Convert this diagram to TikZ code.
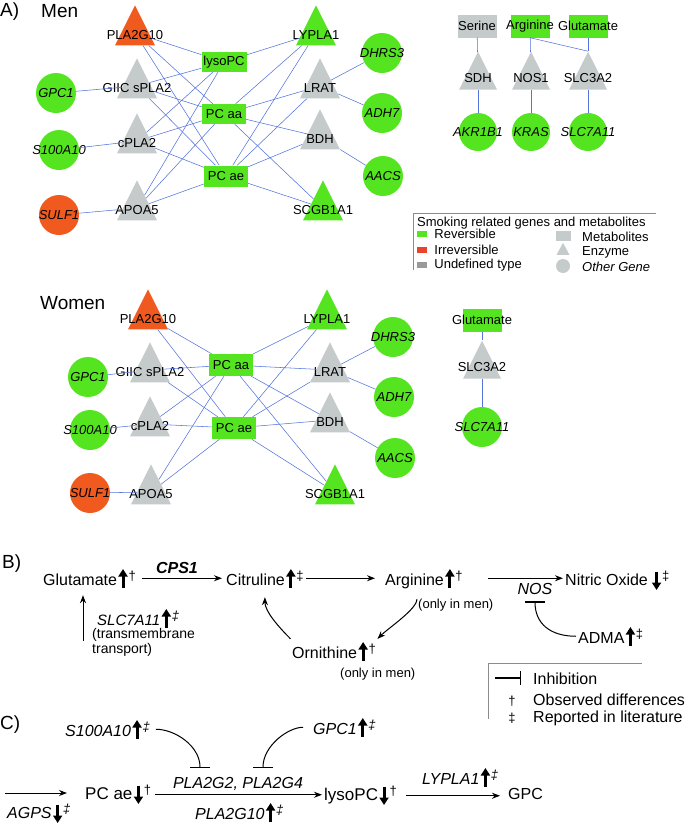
\documentclass[tikz,border=0pt]{standalone}
\usepackage{fontspec}
\setmainfont{Liberation Sans}
\usetikzlibrary{arrows.meta, positioning, shapes.geometric, calc}
\definecolor{nodegreen}{HTML}{55E520}
\definecolor{nodeorange}{HTML}{F05A1E}
\definecolor{nodegray}{HTML}{C5CACB}
\definecolor{legred}{HTML}{E8432B}
\definecolor{leggray}{HTML}{9A9A9A}
\definecolor{edgeblue}{HTML}{5574DC}
\definecolor{framegray}{HTML}{8C8C8C}

% thick change arrows and marks used in B) and C)
\newcommand\incr{\kern1.5pt\tikz[baseline=0pt]\draw[line width=3pt,-{Triangle[width=9pt,length=7.5pt]}] (0pt,-2.5pt) -- (0pt,16pt);}
\newcommand\decr{\kern1.5pt\tikz[baseline=0pt]\draw[line width=3pt,-{Triangle[width=9pt,length=7.5pt]}] (0pt,13.5pt) -- (0pt,-5pt);}
\newcommand\obsd{\raisebox{5pt}{\fontsize{13}{13}\selectfont\kern1pt †}}
\newcommand\litd{\raisebox{5pt}{\fontsize{13}{13}\selectfont\kern1pt ‡}}

\begin{document}
\begin{tikzpicture}[
  x=1pt, y=-1pt,
  enzyme/.style={isosceles triangle, isosceles triangle stretches=true,
                 shape border rotate=90, minimum width=40pt, minimum height=40pt,
                 inner sep=0pt, fill=nodegray},
  gene/.style={circle, minimum size=40pt, inner sep=0pt, fill=nodegreen},
  metab/.style={rectangle, minimum width=44pt, minimum height=20pt,
                inner sep=0pt, fill=nodegreen},
  lbl/.style={font=\fontsize{13}{15}\selectfont, inner sep=0pt},
  elbl/.style={lbl, yshift=-2pt},
  glbl/.style={lbl, font=\fontsize{13}{15}\selectfont\itshape},
  link/.style={draw=edgeblue, line width=0.55pt},
  panel/.style={font=\fontsize{19}{22}\selectfont, anchor=west, inner sep=0pt},
  txt/.style={font=\fontsize{16}{19}\selectfont, anchor=base west, inner sep=0pt},
  itxt/.style={txt, font=\fontsize{16}{19}\selectfont\itshape},
  note/.style={font=\fontsize{13}{15}\selectfont, anchor=base west, inner sep=0pt},
  flow/.style={-{Stealth[length=8pt,width=6pt]}, line width=1pt},
  inhib/.style={-{Bar[width=20pt,line width=1.4pt]}, line width=1pt}
]
\useasboundingbox (0,0) rectangle (685,825);

% A) men
\node[panel] (labA) at (0,12) {A)};
\node[panel] (men) at (41,11) {Men};

\node[enzyme, fill=nodeorange, label={[elbl]center:PLA2G10}] (mPla10) at (135,33) {};
\node[enzyme, label={[elbl]center:GIIC sPLA2}] (mGiic) at (137,86) {};
\node[enzyme, label={[elbl]center:cPLA2}] (mCpla) at (137,141) {};
\node[enzyme, label={[elbl]center:APOA5}] (mApoa) at (137,208) {};
\node[gene, label={[glbl]center:GPC1}] (mGpc1) at (56,93) {};
\node[gene, label={[glbl]center:S100A10}] (mS100) at (59,150) {};
\node[gene, fill=nodeorange, label={[glbl]center:SULF1}] (mSulf) at (59,215) {};
\node[metab, minimum width=45pt, label={[lbl]center:lysoPC}] (mLyso) at (224,62) {};
\node[metab, label={[lbl]center:PC aa}] (mPCaa) at (224,114) {};
\node[metab, minimum height=21pt, label={[lbl]center:PC ae}] (mPCae) at (226,176) {};
\node[enzyme, fill=nodegreen, label={[elbl]center:LYPLA1}] (mLypla) at (316,33) {};
\node[enzyme, label={[elbl]center:LRAT}] (mLrat) at (320,86) {};
\node[enzyme, label={[elbl]center:BDH}] (mBdh) at (320,137) {};
\node[enzyme, fill=nodegreen, label={[elbl]center:SCGB1A1}] (mScgb) at (323,208) {};
\node[gene, label={[glbl]center:DHRS3}] (mDhrs) at (382,53) {};
\node[gene, label={[glbl]center:ADH7}] (mAdh) at (382,113) {};
\node[gene, label={[glbl]center:AACS}] (mAacs) at (383,176) {};

\node[metab, fill=nodegray, minimum width=39pt, minimum height=23pt, label={[lbl]center:Serine}] (mSer) at (477,26) {};
\node[metab, minimum width=39pt, minimum height=23pt, label={[lbl]center:Arginine}] (mArg) at (530,26) {};
\node[metab, minimum width=39pt, minimum height=23pt, label={[lbl]center:Glutamate}] (mGlu) at (588,26) {};
\node[enzyme, minimum width=38pt, minimum height=38pt, label={[lbl]center:SDH}] (mSdh) at (478,78) {};
\node[enzyme, minimum width=38pt, minimum height=38pt, label={[lbl]center:NOS1}] (mNos) at (531,78) {};
\node[enzyme, minimum width=38pt, minimum height=38pt, label={[lbl]center:SLC3A2}] (mSlc3) at (588,78) {};
\node[gene, minimum size=38pt, label={[glbl]center:AKR1B1}] (mAkr) at (478,132) {};
\node[gene, minimum size=38pt, label={[glbl]center:KRAS}] (mKras) at (531,132) {};
\node[gene, minimum size=38pt, label={[glbl]center:SLC7A11}] (mSlc7) at (588,132) {};

\foreach \s in {mPla10,mGiic,mCpla,mApoa}
  \foreach \t in {mLyso,mPCaa,mPCae}
    \draw[link] (\s) -- (\t);
\foreach \s in {mPCaa,mPCae}
  \foreach \t in {mLypla,mLrat,mBdh,mScgb}
    \draw[link] (\s) -- (\t);
\draw[link] (mLyso) -- (mLypla);
\draw[link] (mGpc1) -- (mGiic);
\draw[link] (mS100) -- (mCpla);
\draw[link] (mSulf) -- (mApoa);
\draw[link] (mLrat) -- (mDhrs);
\draw[link] (mLrat) -- (mAdh);
\draw[link] (mBdh) -- (mAacs);
\draw[link] (mSer) -- (mSdh);
\draw[link] (mArg) -- (mNos);
\draw[link] (mArg.south) -- (mSlc3.apex);
\draw[link] (mGlu) -- (mSlc3);
\draw[link] (mSdh) -- (mAkr);
\draw[link] (mNos) -- (mKras);
\draw[link] (mSlc3) -- (mSlc7);

% legend of the networks
\draw[framegray, line width=0.8pt] (656,213) -- (413,213) -- (413,270);
\node[lbl, anchor=west] (legTitle) at (417,223) {Smoking related genes and metabolites};
\node[metab, minimum width=10pt, minimum height=6pt] (legRev) at (422,234) {};
\node[metab, fill=legred, minimum width=10pt, minimum height=6pt] (legIrr) at (422,250) {};
\node[metab, fill=leggray, minimum width=10pt, minimum height=6pt] (legUnd) at (422,265) {};
\node[lbl, right=7pt of legRev] (legRevT) {Reversible};
\node[lbl, right=7pt of legIrr] (legIrrT) {Irreversible};
\node[lbl, right=7pt of legUnd] (legUndT) {Undefined type};
\node[metab, fill=nodegray, minimum width=15pt, minimum height=10pt] (legMet) at (563,236) {};
\node[enzyme, minimum width=13pt, minimum height=12pt] (legEnz) at (563,251) {};
\node[gene, fill=nodegray, minimum size=14pt] (legGene) at (563,266) {};
\node[lbl, anchor=west] (legMetT) at (582,237) {Metabolites};
\node[lbl, anchor=west] (legEnzT) at (582,252) {Enzyme};
\node[glbl, anchor=west] (legGeneT) at (582,267) {Other Gene};

% A) women
\node[panel] (women) at (40,303) {Women};

\node[enzyme, fill=nodeorange, label={[elbl]center:PLA2G10}] (wPla10) at (148,317) {};
\node[enzyme, label={[elbl]center:GIIC sPLA2}] (wGiic) at (150,370) {};
\node[enzyme, label={[elbl]center:cPLA2}] (wCpla) at (150,424) {};
\node[enzyme, label={[elbl]center:APOA5}] (wApoa) at (151,492) {};
\node[gene, label={[glbl]center:GPC1}] (wGpc1) at (88,377) {};
\node[gene, label={[glbl]center:S100A10}] (wS100) at (90,430) {};
\node[gene, fill=nodeorange, label={[glbl]center:SULF1}] (wSulf) at (90,493) {};
\node[metab, minimum height=22pt, label={[lbl]center:PC aa}] (wPCaa) at (231,365) {};
\node[metab, minimum height=22pt, label={[lbl]center:PC ae}] (wPCae) at (234,428) {};
\node[enzyme, fill=nodegreen, label={[elbl]center:LYPLA1}] (wLypla) at (327,317) {};
\node[enzyme, label={[elbl]center:LRAT}] (wLrat) at (330,370) {};
\node[enzyme, label={[elbl]center:BDH}] (wBdh) at (330,420) {};
\node[enzyme, fill=nodegreen, label={[elbl]center:SCGB1A1}] (wScgb) at (335,492) {};
\node[gene, label={[glbl]center:DHRS3}] (wDhrs) at (393,337) {};
\node[gene, label={[glbl]center:ADH7}] (wAdh) at (394,397) {};
\node[gene, label={[glbl]center:AACS}] (wAacs) at (395,458) {};

\node[metab, minimum width=39pt, minimum height=23pt, label={[lbl]center:Glutamate}] (wGlu) at (482,320) {};
\node[enzyme, minimum width=38pt, minimum height=38pt, label={[lbl]center:SLC3A2}] (wSlc3) at (482,367) {};
\node[gene, label={[glbl]center:SLC7A11}] (wSlc7) at (482,427) {};

\foreach \s in {wPla10,wGiic,wCpla,wApoa}
  \foreach \t in {wPCaa,wPCae}
    \draw[link] (\s) -- (\t);
\foreach \s in {wPCaa,wPCae}
  \foreach \t in {wLypla,wLrat,wBdh,wScgb}
    \draw[link] (\s) -- (\t);
\draw[link] (wGpc1) -- (wGiic);
\draw[link] (wS100) -- (wCpla);
\draw[link] (wSulf) -- (wApoa);
\draw[link] (wLrat) -- (wDhrs);
\draw[link] (wLrat) -- (wAdh);
\draw[link] (wBdh) -- (wAacs);
\draw[link] (wGlu) -- (wSlc3);
\draw[link] (wSlc3) -- (wSlc7);

% B) urea cycle / nitric oxide
\node[panel] (labB) at (2,564) {B)};
\node[txt] (bGlu) at (43,585) {Glutamate\incr\obsd};
\node[txt] (bCit) at (226,585) {Citruline\incr\litd};
\node[txt] (bArg) at (385,585) {Arginine\incr\obsd};
\node[txt] (bNO) at (565,585) {Nitric Oxide\,\decr\litd};
\node[txt, anchor=base, font=\fontsize{16}{19}\selectfont\bfseries\itshape] (bCps) at (177,573) {CPS1};
\node[note] (bArgNote) at (418,608) {(only in men)};
\node[itxt, anchor=base] (bNos) at (535,594) {NOS};
\node[txt] (bAdma) at (578,643) {ADMA\incr\litd};
\node[txt] (bOrn) at (292,658) {Ornithine\incr\obsd};
\node[note] (bOrnNote) at (340,677) {(only in men)};
\node[itxt, font=\fontsize{15}{18}\selectfont\itshape] (bSlc) at (97,625) {SLC7A11\incr\litd};
\node[note, font=\fontsize{14}{15}\selectfont, align=left, anchor=north west] (bSlcNote) at (92,628) {(transmembrane\\transport)};

\draw[flow, shorten <=6pt, shorten >=4pt] (bGlu.east) -- (bCit.west);
\draw[flow, shorten <=2pt, shorten >=10pt] (bCit.east) -- (bArg.west);
\draw[flow, shorten <=25pt, shorten >=2pt] (bArg.east) -- (bArg.east -| bNO.west);
\draw[flow, shorten <=10pt, shorten >=2pt] ([xshift=-7pt]bArg.south) .. controls +(0,20) and +(12,-12) .. (bOrn.north east);
\draw[flow, shorten <=2pt, shorten >=8pt] (bOrn.north west) .. controls +(-14,-14) and +(0,22) .. (bCit.south);
\coordinate (bSlcIn) at (83,641);
\draw[flow, shorten >=6pt] (bSlcIn) -- (bSlcIn |- bGlu.south);
\coordinate (bNosBar) at ([yshift=-7pt]bNos.south);
\draw[inhib, shorten <=2pt] (bAdma.west) .. controls +(-28,0) and +(0,22) .. (bNosBar);

% legend of B) and C)
\draw[framegray, line width=0.8pt] (642,663) -- (488,663) -- (488,719);
\coordinate (legInhA) at (495,678);
\coordinate (legInhB) at (521,678);
\draw[-{Bar[width=14pt,line width=1.2pt]}, line width=1.2pt] (legInhA) -- (legInhB);
\node[txt] (legInh) at (533,684) {Inhibition};
\node[note, anchor=base] (legDag) at (512,705) {†};
\node[txt] (legObs) at (533,705) {Observed differences};
\node[note, anchor=base] (legDdag) at (512,722) {‡};
\node[txt] (legLit) at (533,722) {Reported in literature};

% C) phosphatidylcholine
\node[panel] (labC) at (0,725) {C)};
\node[itxt] (cS100) at (65,736) {S100A10\incr\litd};
\node[itxt] (cGpc1) at (313,734) {GPC1\incr\litd};
\node[itxt, anchor=base] (cPla) at (238,788) {PLA2G2, PLA2G4};
\node[txt, font=\fontsize{17}{20}\selectfont] (cPCae) at (85,799) {PC ae\decr\obsd};
\node[txt, font=\fontsize{17}{20}\selectfont] (cLyso) at (324,800) {lysoPC\decr\obsd};
\node[itxt] (cPla10) at (195,819) {PLA2G10\incr\litd};
\node[itxt] (cAgps) at (7,818) {AGPS\decr\litd};
\node[itxt] (cLypla) at (422,784) {LYPLA1\incr\litd};
\node[txt] (cGpc) at (508,799) {GPC};

\coordinate (cBarS) at (200,768);
\coordinate (cBarG) at (263,768);
\draw[inhib, shorten <=6pt] (cS100.east) .. controls +(25,0) and +(0,-22) .. (cBarS);
\draw[inhib, shorten <=10pt] (cGpc1.west) .. controls +(-25,0) and +(0,-22) .. (cBarG);
\coordinate (cAgpsIn) at (5,793);
\draw[flow, shorten >=18pt] (cAgpsIn) -- (cAgpsIn -| cPCae.west);
\draw[flow, shorten <=4pt, shorten >=2pt] (cPCae.east) -- (cPCae.east -| cLyso.west);
\draw[flow, shorten <=9pt, shorten >=8pt] (cLyso.east) -- (cLyso.east -| cGpc.west);
\end{tikzpicture}
\end{document}
